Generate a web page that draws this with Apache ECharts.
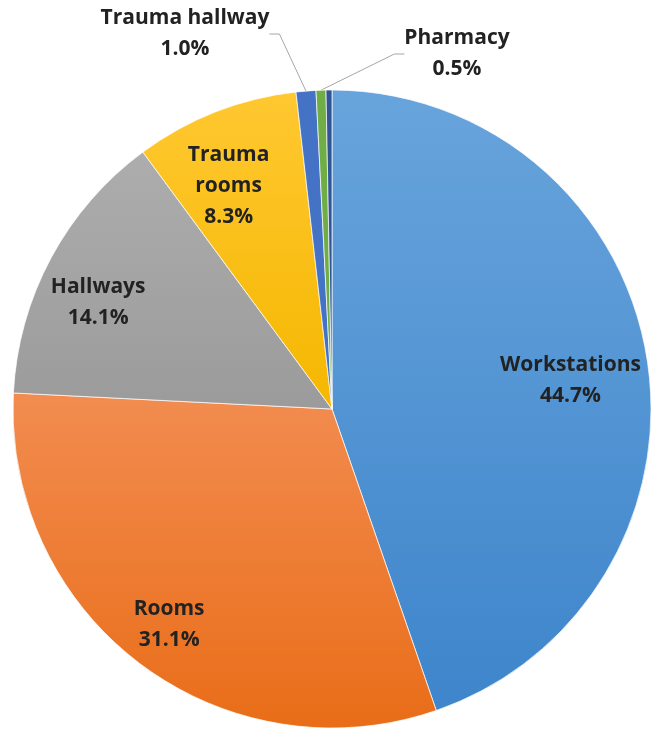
<!DOCTYPE html>
<html>
<head>
<meta charset="utf-8">
<style>html,body{margin:0;padding:0;background:#fff;}#c{width:652px;height:729px;}</style>
<script src="https://cdn.jsdelivr.net/npm/echarts@6/dist/echarts.min.js"></script>
</head>
<body>
<div id="c"></div>
<script>
const categories = ['Workstations', 'Rooms', 'Hallways', 'Trauma rooms', 'Trauma hallway', 'Pharmacy', 'Other'];
const values = [44.7, 31.1, 14.1, 8.3, 1.0, 0.5, 0.3];
const colorsTop = ['#68a4dc', '#f28c50', '#adadad', '#ffc830', '#4472c4', '#70ad47', '#2f5597'];
const colorsBottom = ['#3e85cb', '#e96d18', '#9b9b9b', '#f5b700', '#4472c4', '#70ad47', '#2f5597'];
const insideLabelIdx = [0, 1, 2, 3];
const outsideLabelIdx = [4, 5];

const chart = echarts.init(document.getElementById('c'), null, {renderer: 'canvas'});
const CX = 332, CY = 409, R = 319;
const font = {fontFamily: 'Open Sans', fontWeight: 'bold', fontSize: 21, lineHeight: 31, color: '#222222'};

function fmt(p) {
  const nm = p.dataIndex === 3 ? p.name.replace(' ', '\n') : p.name;
  return nm + '\n' + values[p.dataIndex].toFixed(1) + '%';
}

const mainData = categories.map((c, i) => ({
  name: c, value: values[i],
  itemStyle: {
    color: new echarts.graphic.LinearGradient(0, 0, 0, 1, [
      {offset: 0, color: colorsTop[i]}, {offset: 1, color: colorsBottom[i]}
    ])
  },
  label: {show: outsideLabelIdx.includes(i)},
  labelLine: {show: outsideLabelIdx.includes(i)}
}));

const ringData = categories.map((c, i) => ({
  name: c, value: values[i],
  label: {show: insideLabelIdx.includes(i)}
}));

const outsidePos = {4: [185, 34], 5: [457, 54]};

chart.setOption({
  animation: false,
  series: [
    {
      type: 'pie',
      center: [CX, CY],
      radius: [0, R],
      startAngle: 90,
      clockwise: true,
      silent: true,
      itemStyle: {borderColor: 'rgba(255,255,255,0.7)', borderWidth: 1},
      label: Object.assign({position: 'outside', formatter: fmt, align: 'center', overflow: 'none', edgeDistance: 0}, font),
      labelLine: {show: true, length: 10, length2: 10, lineStyle: {color: '#a6a6a6', width: 1}},
      labelLayout: function (p) {
        const pos = outsidePos[p.dataIndex];
        if (pos) return {x: pos[0], y: pos[1], align: 'center', verticalAlign: 'middle'};
        return {};
      },
      data: mainData
    },
    {
      type: 'pie',
      center: [CX, CY],
      radius: [175, 325],
      startAngle: 90,
      clockwise: true,
      silent: true,
      itemStyle: {color: 'rgba(0,0,0,0)'},
      label: Object.assign({position: 'inside', formatter: fmt, align: 'center'}, font),
      labelLine: {show: false},
      labelLayout: function () { return {dx: -11, dy: 13}; },
      data: ringData
    }
  ]
});
</script>
</body>
</html>
